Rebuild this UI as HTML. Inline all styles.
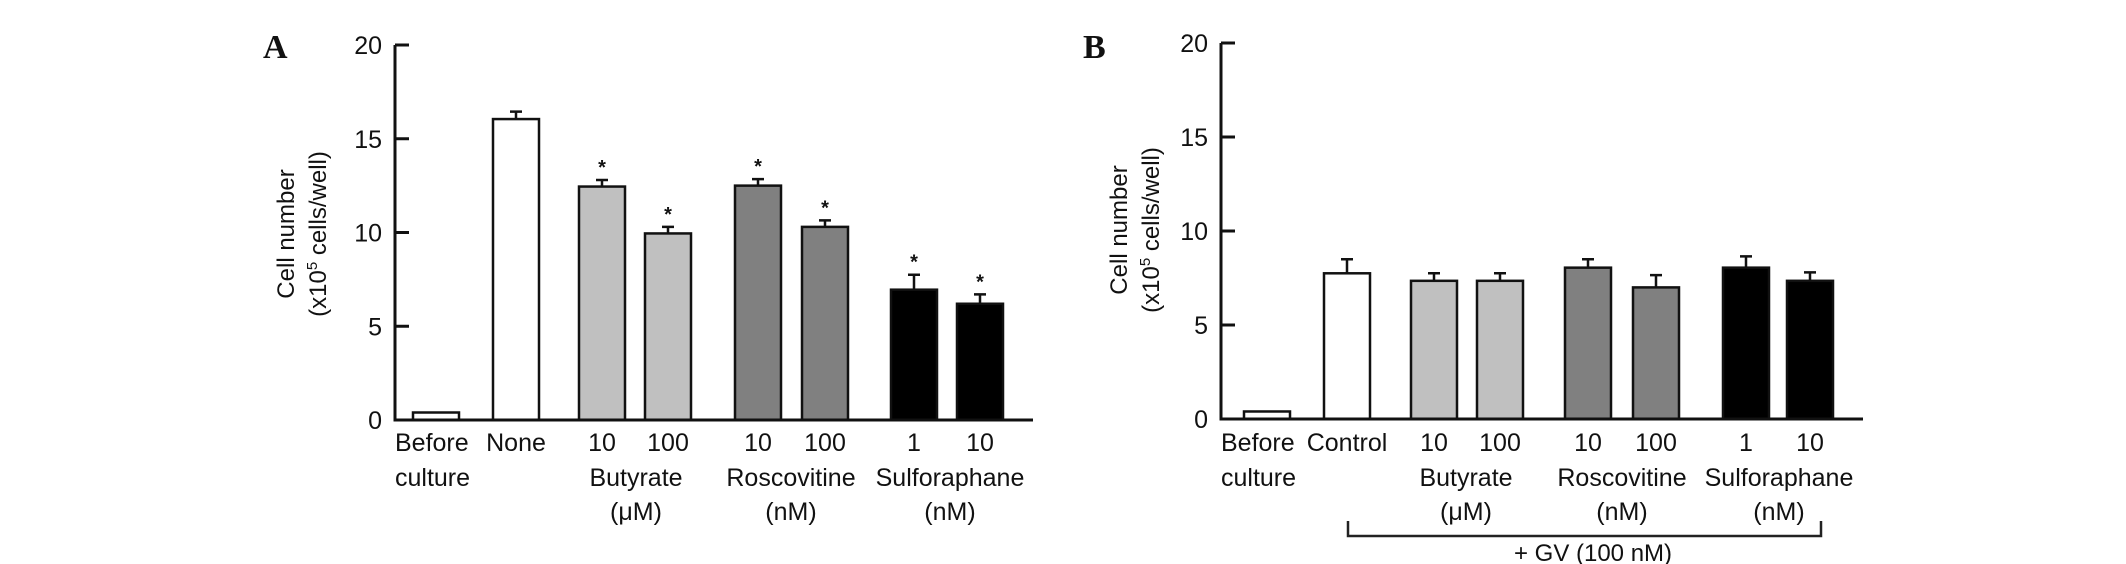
<!DOCTYPE html>
<html><head><meta charset="utf-8"><style>
html,body{margin:0;padding:0;background:#fff;}
svg{display:block;}
text{font-family:"Liberation Sans",Arial,sans-serif;fill:#111;}
text.serif{font-family:"Liberation Serif",serif;}
</style></head><body>
<svg id="fig" width="2126" height="564" viewBox="0 0 2126 564" xmlns="http://www.w3.org/2000/svg"></svg>
<script>
const categoriesA = ["Before culture","None","Butyrate 10","Butyrate 100","Roscovitine 10","Roscovitine 100","Sulforaphane 1","Sulforaphane 10"];
const valuesA = [0.4,16.05,12.45,9.95,12.5,10.3,6.95,6.2];
const errorsA = [0,0.4,0.35,0.35,0.35,0.35,0.8,0.5];
const starsA = [false,false,true,true,true,true,true,true];
const categoriesB = ["Before culture","Control","Butyrate 10","Butyrate 100","Roscovitine 10","Roscovitine 100","Sulforaphane 1","Sulforaphane 10"];
const valuesB = [0.4,7.75,7.35,7.35,8.05,7.0,8.05,7.35];
const errorsB = [0,0.75,0.4,0.4,0.45,0.65,0.6,0.45];
const fills = ["#fff","#fff","#c0c0c0","#c0c0c0","#808080","#808080","#000","#000"];
const yTicks = [0,5,10,15,20];
const numLabels = ["","","10","100","10","100","1","10"];

const NS="http://www.w3.org/2000/svg";
const svg=document.getElementById('fig');
function mk(tag,attrs,parent,txt){const e=document.createElementNS(NS,tag);for(const k in attrs)e.setAttribute(k,attrs[k]);if(txt!==undefined)e.textContent=txt;(parent||svg).appendChild(e);return e;}

function panel(cfg){
  const g=mk('g',{});
  
  
  const y=v=>cfg.y0-(cfg.y0-cfg.y20)*v/20;
  const L=mk('text',{x:cfg.letterX,y:58,'font-size':34,'font-weight':'bold','class':'serif'},g,cfg.letter);
  
  
  cfg.values.forEach((v,i)=>{
    const cx=cfg.centers[i];
    if(cfg.errors[i]>0){
      const ey=y(v+cfg.errors[i]);
      const el=mk('path',{d:`M${cx} ${y(v)} V${ey} M${cx-6} ${ey} H${cx+6}`,stroke:'#111','stroke-width':2.5,fill:'none'},g);
      
      
      if(cfg.stars && cfg.stars[i]){
        const s=mk('text',{x:cx,y:ey-6,'text-anchor':'middle','font-size':20,'font-weight':'bold'},g,'*');
        
        
      }
    }
    const r=mk('rect',{x:cx-23,y:y(v),width:46,height:cfg.y0-y(v),fill:fills[i],stroke:'#111','stroke-width':2.5},g);
    
    
  });
  const ax=mk('path',{d:`M${cfg.axisX} ${cfg.y20} V${cfg.y0} H${cfg.xEnd}`,stroke:'#111','stroke-width':3,fill:'none'},g);
  
  
  yTicks.forEach(t=>{
    const tk=mk('line',{x1:cfg.axisX,x2:cfg.axisX+14,y1:y(t),y2:y(t),stroke:'#111','stroke-width':3},g);
    
    
    const tl=mk('text',{x:cfg.axisX-13,y:y(t)+9,'text-anchor':'end','font-size':25},g,String(t));
    
    
  });
  const yt=mk('text',{transform:`translate(${cfg.titleX},${cfg.titleY}) rotate(-90)`,'text-anchor':'middle','font-size':24},g);
  
  
  mk('tspan',{x:0,y:0},yt,'Cell number');
  mk('tspan',{x:0,y:32},yt,'(x10');
  mk('tspan',{'font-size':15,dy:-9},yt,'5');
  mk('tspan',{dy:9},yt,' cells/well)');
  const xl=(x,yy,txt,anchor)=>{const e=mk('text',{x:x,y:yy,'text-anchor':anchor||'middle','font-size':25},g,txt);return e;};
  xl(cfg.axisX,451,'Before','start');
  xl(cfg.axisX,486,'culture','start');
  xl(cfg.centers[1],451,cfg.ctrl);
  numLabels.forEach((n,i)=>{if(n)xl(cfg.centers[i],451,n);});
  cfg.groups.forEach(gr=>{xl(gr[0],486,gr[1]);xl(gr[0],520,gr[2]);});
  return g;
}
const cA=[436,516,602,668,758,825,914,980];
const cB=[1267,1347,1434,1500,1588,1656,1746,1810];
panel({name:'panel-a',letter:'A',letterX:263,axisX:395,xEnd:1033,y0:420,y20:45,values:valuesA,errors:errorsA,stars:starsA,centers:cA,ctrl:'None',titleX:294,titleY:234,
  groups:[[636,'Butyrate','(μM)'],[791,'Roscovitine','(nM)'],[950,'Sulforaphane','(nM)']]});
panel({name:'panel-b',letter:'B',letterX:1083,axisX:1221,xEnd:1863,y0:419,y20:43,values:valuesB,errors:errorsB,stars:null,centers:cB,ctrl:'Control',titleX:1127,titleY:230,
  groups:[[1466,'Butyrate','(μM)'],[1622,'Roscovitine','(nM)'],[1779,'Sulforaphane','(nM)']]});
const br=mk('path',{d:'M1348 521 V536 H1821 V521',stroke:'#222','stroke-width':2.5,fill:'none'});


const gv=mk('text',{x:1593,y:561,'text-anchor':'middle','font-size':24},svg,'+ GV (100 nM)');


</script>
</body></html>
